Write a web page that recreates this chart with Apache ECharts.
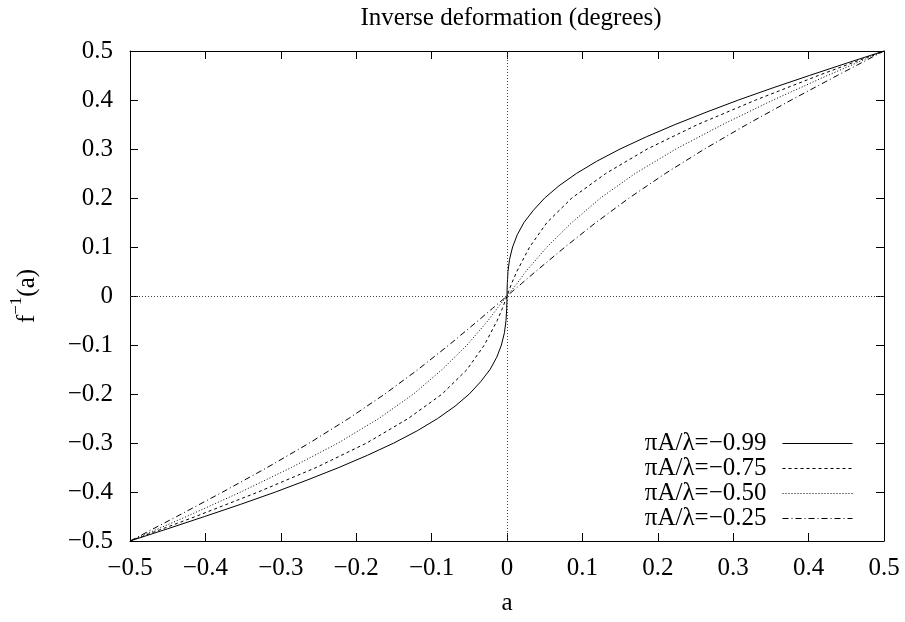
<!DOCTYPE html>
<html>
<head>
<meta charset="utf-8">
<title>Inverse deformation</title>
<script src="https://cdn.jsdelivr.net/npm/echarts@6/dist/echarts.min.js"></script>
<style>
  html, body { margin: 0; padding: 0; background: #fff; }
  #chart { width: 905px; height: 622px; }
</style>
</head>
<body>
<div id="chart"></div>
<script>
// points as [a, f^-1(a)]
const curve099 = [
  [-0.5, -0.5], [-0.45, -0.475], [-0.401, -0.45], [-0.353, -0.425], [-0.307, -0.4],
  [-0.264, -0.375], [-0.223, -0.35], [-0.185, -0.325], [-0.150, -0.3], [-0.119, -0.275],
  [-0.092, -0.25], [-0.069, -0.225], [-0.050, -0.2], [-0.035, -0.175], [-0.0225, -0.15],
  [-0.0136, -0.125], [-0.0074, -0.1], [-0.0034, -0.075], [-0.0013, -0.05], [-0.0004, -0.025],
  [-0.0001, -0.01], [0, 0],
  [0.0001, 0.01], [0.0004, 0.025], [0.0013, 0.05], [0.0034, 0.075], [0.0074, 0.1],
  [0.0136, 0.125], [0.0225, 0.15], [0.035, 0.175], [0.050, 0.2], [0.069, 0.225],
  [0.092, 0.25], [0.119, 0.275], [0.150, 0.3], [0.185, 0.325], [0.223, 0.35],
  [0.264, 0.375], [0.307, 0.4], [0.353, 0.425], [0.401, 0.45], [0.45, 0.475], [0.5, 0.5]
]
const curve075 = [
  [-0.5, -0.5], [-0.413, -0.45], [-0.330, -0.4], [-0.253, -0.35], [-0.186, -0.3],
  [-0.131, -0.25], [-0.086, -0.2], [-0.053, -0.15], [-0.030, -0.1], [-0.013, -0.05],
  [-0.006, -0.025], [0, 0],
  [0.006, 0.025], [0.013, 0.05], [0.030, 0.1], [0.053, 0.15], [0.086, 0.2],
  [0.131, 0.25], [0.186, 0.3], [0.253, 0.35], [0.330, 0.4], [0.413, 0.45], [0.5, 0.5]
]
const curve050 = [
  [-0.5, -0.5], [-0.425, -0.45], [-0.353, -0.4], [-0.286, -0.35], [-0.224, -0.3],
  [-0.170, -0.25], [-0.124, -0.2], [-0.086, -0.15], [-0.053, -0.1], [-0.025, -0.05],
  [-0.013, -0.025], [0, 0],
  [0.013, 0.025], [0.025, 0.05], [0.053, 0.1], [0.086, 0.15], [0.124, 0.2],
  [0.170, 0.25], [0.224, 0.3], [0.286, 0.35], [0.353, 0.4], [0.425, 0.45], [0.5, 0.5]
]
const curve025 = [
  [-0.5, -0.5], [-0.438, -0.45], [-0.377, -0.4], [-0.318, -0.35], [-0.262, -0.3],
  [-0.210, -0.25], [-0.162, -0.2], [-0.118, -0.15], [-0.077, -0.1], [-0.038, -0.05],
  [-0.019, -0.025], [0, 0],
  [0.019, 0.025], [0.038, 0.05], [0.077, 0.1], [0.118, 0.15], [0.162, 0.2],
  [0.210, 0.25], [0.262, 0.3], [0.318, 0.35], [0.377, 0.4], [0.438, 0.45], [0.5, 0.5]
]
const seriesNames = ['πA/λ=−0.99', 'πA/λ=−0.75', 'πA/λ=−0.50', 'πA/λ=−0.25']
const axisMin = -0.5
const axisMax = 0.5
const tickStep = 0.1

const font = 'Liberation Serif'
const fontSize = 25

function tickLabel(v) {
  if (Math.abs(v) < 1e-9) return '0'
  return v.toFixed(1).replace('-', '−')
}

function mirrorAxis(extra) {
  return Object.assign({
    type: 'value',
    min: axisMin,
    max: axisMax,
    interval: tickStep,
    axisLine: { show: true, onZero: false, lineStyle: { color: '#000', width: 1 } },
    axisTick: { show: true, inside: true, length: 8, lineStyle: { color: '#000' } },
    axisLabel: { show: false },
    splitLine: { show: false }
  }, extra)
}

const chart = echarts.init(document.getElementById('chart'))

chart.setOption({
  animation: false,
  backgroundColor: '#fff',
  title: {
    text: 'Inverse deformation (degrees)',
    left: 506,
    top: 1,
    textAlign: 'center',
    textStyle: { fontFamily: font, fontSize: fontSize, fontWeight: 'normal', color: '#000' }
  },
  legend: {
    orient: 'vertical',
    right: 52,
    top: 431,
    padding: 0,
    align: 'right',
    itemWidth: 70,
    itemHeight: 12,
    itemGap: 0,
    selectedMode: false,
    itemStyle: { opacity: 0 },
    lineStyle: { width: 1 },
    textStyle: { fontFamily: font, fontSize: fontSize, color: '#000', lineHeight: 25, padding: [0, 11, 0, 0] },
    data: seriesNames
  },
  grid: { left: 128, right: 21, top: 51, bottom: 81 },
  xAxis: [
    mirrorAxis({
      position: 'bottom',
      name: 'a',
      nameLocation: 'middle',
      nameGap: 50,
      nameTextStyle: { fontFamily: font, fontSize: fontSize, color: '#000' },
      axisLabel: { show: true, margin: 15, fontFamily: font, fontSize: fontSize, color: '#000', formatter: tickLabel }
    }),
    mirrorAxis({ position: 'top' })
  ],
  yAxis: [
    mirrorAxis({
      position: 'left',
      name: '{b|f}{s|−1}{b|(a)}',
      nameLocation: 'middle',
      nameGap: 90,
      nameRotate: 90,
      nameTextStyle: {
        color: '#000',
        rich: {
          b: { fontFamily: font, fontSize: fontSize, color: '#000', lineHeight: 32, verticalAlign: 'bottom' },
          s: { fontFamily: font, fontSize: 17, color: '#000', lineHeight: 32, verticalAlign: 'top' }
        }
      },
      axisLabel: { show: true, margin: 17, fontFamily: font, fontSize: fontSize, color: '#000', formatter: tickLabel }
    }),
    mirrorAxis({ position: 'right' })
  ],
  series: [
    {
      name: seriesNames[0],
      type: 'line',
      data: curve099,
      symbol: 'none',
      itemStyle: { color: '#000' },
      lineStyle: { color: '#000', width: 1, type: 'solid' },
      markLine: {
        silent: true,
        symbol: ['none', 'none'],
        label: { show: false },
        lineStyle: { color: '#444', width: 1, type: [1, 2] },
        data: [{ xAxis: 0 }, { yAxis: 0 }]
      }
    },
    {
      name: seriesNames[1],
      type: 'line',
      data: curve075,
      symbol: 'none',
      itemStyle: { color: '#000' },
      lineStyle: { color: '#000', width: 1, type: [3, 3] }
    },
    {
      name: seriesNames[2],
      type: 'line',
      data: curve050,
      symbol: 'none',
      itemStyle: { color: '#000' },
      lineStyle: { color: '#000', width: 1, type: [1, 2] }
    },
    {
      name: seriesNames[3],
      type: 'line',
      data: curve025,
      symbol: 'none',
      itemStyle: { color: '#000' },
      lineStyle: { color: '#000', width: 1, type: [6, 3, 1, 3] }
    }
  ]
})
</script>
</body>
</html>
